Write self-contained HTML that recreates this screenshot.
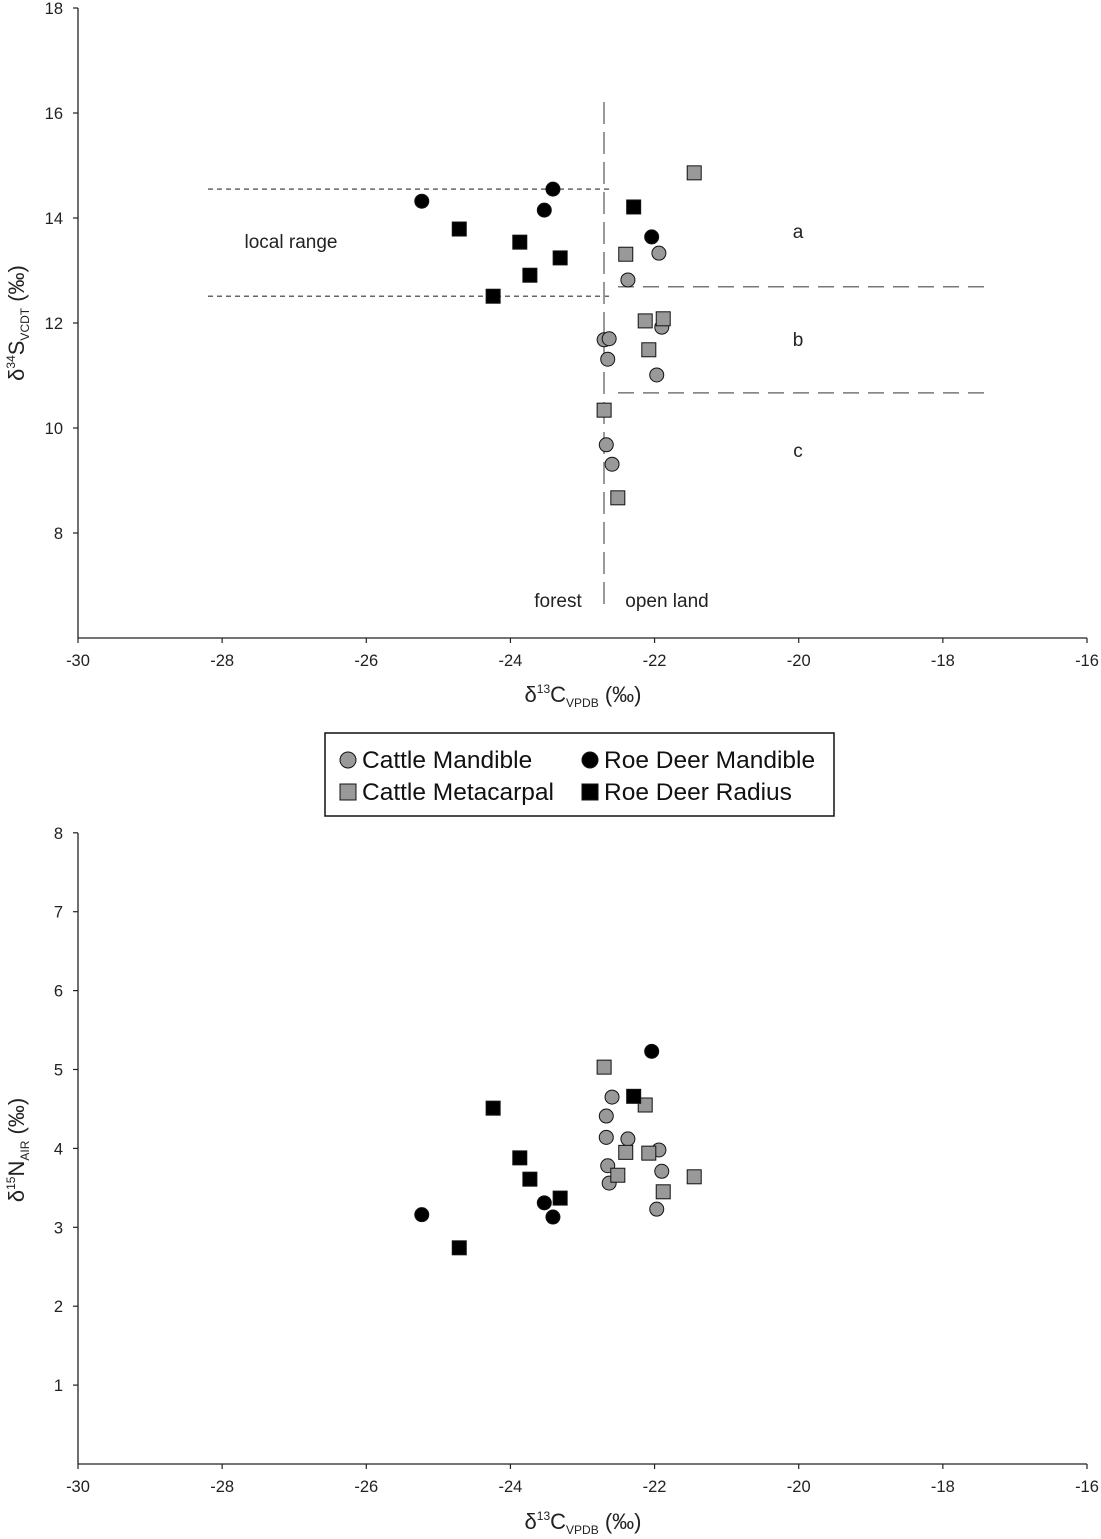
<!DOCTYPE html>
<html><head><meta charset="utf-8"><style>
html,body{margin:0;padding:0;background:#fff}
svg{display:block;font-family:"Liberation Sans",sans-serif}
</style></head><body>
<svg id="chart" width="1101" height="1539" viewBox="0 0 1101 1539" xmlns="http://www.w3.org/2000/svg"></svg>
<script>
// ---- top chart data (d13C, d34S) ----
const topCattleMandC = [-21.94,-22.37,-22.70,-22.63,-22.65,-21.90,-21.97,-22.67,-22.59];
const topCattleMandS = [13.33,12.82,11.68,11.70,11.31,11.92,11.01,9.68,9.31];
const topCattleMetaC = [-21.45,-22.40,-22.13,-21.88,-22.08,-22.70,-22.51];
const topCattleMetaS = [14.86,13.31,12.04,12.08,11.49,10.34,8.67];
const topRoeMandC = [-25.23,-23.41,-23.53,-22.04];
const topRoeMandS = [14.32,14.55,14.15,13.64];
const topRoeRadC = [-24.71,-24.24,-23.87,-23.73,-23.31,-22.29];
const topRoeRadS = [13.79,12.51,13.54,12.91,13.24,14.21];
// ---- bottom chart data (d13C, d15N) ----
const botCattleMandC = [-22.59,-22.67,-22.67,-22.37,-22.65,-22.63,-21.94,-21.90,-21.97];
const botCattleMandN = [4.65,4.41,4.14,4.12,3.78,3.56,3.98,3.71,3.23];
const botCattleMetaC = [-22.70,-22.13,-22.40,-22.08,-22.51,-21.88,-21.45];
const botCattleMetaN = [5.03,4.55,3.95,3.94,3.66,3.45,3.64];
const botRoeMandC = [-25.23,-23.53,-23.41,-22.04];
const botRoeMandN = [3.16,3.31,3.13,5.23];
const botRoeRadC = [-24.71,-24.24,-23.87,-23.73,-23.31,-22.29];
const botRoeRadN = [2.74,4.51,3.88,3.61,3.37,4.66];
const xTicks = [-30,-28,-26,-24,-22,-20,-18,-16];
const topYTicks = [8,10,12,14,16,18];
const botYTicks = [1,2,3,4,5,6,7,8];

const NS="http://www.w3.org/2000/svg";
const svg=document.getElementById('chart');
function mk(tag,attrs,name,parent){const e=document.createElementNS(NS,tag);for(const k in attrs)e.setAttribute(k,attrs[k]);


(parent||svg).appendChild(e);return e;}
const X=v=>78+(v+30)*(1009/14);
const YT=v=>638-(v-6)*52.5;
const YB=v=>1464-v*78.9;

function axes(y0,ytop,Y,yt,pref){
  mk('line',{x1:78,y1:y0,x2:1087,y2:y0,stroke:'#222','stroke-width':1.3},pref+'-x-axis');
  mk('line',{x1:78,y1:ytop,x2:78,y2:y0,stroke:'#222','stroke-width':1.3},pref+'-y-axis');
  xTicks.forEach(t=>{
    mk('line',{x1:X(t),y1:y0,x2:X(t),y2:y0+5,stroke:'#222','stroke-width':1.2},pref+'-x-tick');
    const tx=mk('text',{x:X(t),y:y0+28,'text-anchor':'middle','font-size':16.5,fill:'#222'},pref+'-x-tick-label');tx.textContent=t;
  });
  yt.forEach(t=>{
    mk('line',{x1:73,y1:Y(t),x2:78,y2:Y(t),stroke:'#222','stroke-width':1.2},pref+'-y-tick');
    const tx=mk('text',{x:63,y:Y(t)+6,'text-anchor':'end','font-size':16.5,fill:'#222'},pref+'-y-tick-label');tx.textContent=t;
  });
}
axes(638,8,YT,topYTicks,'top');
axes(1464,833,YB,botYTicks,'bottom');

mk('line',{x1:208,y1:YT(14.55),x2:612,y2:YT(14.55),stroke:'#666','stroke-width':1.5,'stroke-dasharray':'5,4'},'local-range-upper');
mk('line',{x1:208,y1:YT(12.51),x2:612,y2:YT(12.51),stroke:'#666','stroke-width':1.5,'stroke-dasharray':'5,4'},'local-range-lower');
mk('line',{x1:618,y1:YT(12.69),x2:990,y2:YT(12.69),stroke:'#777','stroke-width':1.5,'stroke-dasharray':'16,9'},'a-b-divider');
mk('line',{x1:618,y1:YT(10.67),x2:990,y2:YT(10.67),stroke:'#777','stroke-width':1.5,'stroke-dasharray':'16,9'},'b-c-divider');
mk('line',{x1:604,y1:102,x2:604,y2:608,stroke:'#999','stroke-width':2,'stroke-dasharray':'22,8'},'forest-openland-divider');

function label(x,y,t,name,size){const e=mk('text',{x:x,y:y,'text-anchor':'middle','font-size':size||19,fill:'#222'},name);e.textContent=t;}
label(291,248,'local range','local-range-label');
label(798,238,'a','zone-a-label');
label(798,346,'b','zone-b-label');
label(798,457,'c','zone-c-label');
label(558,607,'forest','forest-label');
label(667,607,'open land','open-land-label');

function circles(cs,vs,Y,fill,name){cs.forEach((c,i)=>mk('circle',{cx:X(c),cy:Y(vs[i]),r:7,fill:fill,stroke:'#111','stroke-width':1},name));}
function squares(cs,vs,Y,fill,name){cs.forEach((c,i)=>mk('rect',{x:X(c)-7,y:Y(vs[i])-7,width:14,height:14,fill:fill,stroke:'#111','stroke-width':1},name));}
circles(topCattleMandC,topCattleMandS,YT,'#999','top-cattle-mandible-point');
squares(topCattleMetaC,topCattleMetaS,YT,'#999','top-cattle-metacarpal-point');
circles(topRoeMandC,topRoeMandS,YT,'#000','top-roe-deer-mandible-point');
squares(topRoeRadC,topRoeRadS,YT,'#000','top-roe-deer-radius-point');
circles(botCattleMandC,botCattleMandN,YB,'#999','bottom-cattle-mandible-point');
squares(botCattleMetaC,botCattleMetaN,YB,'#999','bottom-cattle-metacarpal-point');
circles(botRoeMandC,botRoeMandN,YB,'#000','bottom-roe-deer-mandible-point');
squares(botRoeRadC,botRoeRadN,YB,'#000','bottom-roe-deer-radius-point');

function xtitle(y,name){const t=mk('text',{x:583,y:y,'text-anchor':'middle','font-size':22,fill:'#222'},name);
t.innerHTML='δ<tspan font-size="12" dy="-9">13</tspan><tspan dy="9">C</tspan><tspan font-size="12" dy="5">VPDB</tspan><tspan dy="-5"> (‰)</tspan>';}
xtitle(702,'top-x-axis-title');xtitle(1529,'bottom-x-axis-title');
const yt1=mk('text',{x:0,y:0,'text-anchor':'middle','font-size':22,fill:'#222',transform:'translate(24,323) rotate(-90)'},'top-y-axis-title');
yt1.innerHTML='δ<tspan font-size="12" dy="-9">34</tspan><tspan dy="9">S</tspan><tspan font-size="12" dy="5">VCDT</tspan><tspan dy="-5"> (‰)</tspan>';
const yt2=mk('text',{x:0,y:0,'text-anchor':'middle','font-size':22,fill:'#222',transform:'translate(24,1150) rotate(-90)'},'bottom-y-axis-title');
yt2.innerHTML='δ<tspan font-size="12" dy="-9">15</tspan><tspan dy="9">N</tspan><tspan font-size="12" dy="5">AIR</tspan><tspan dy="-5"> (‰)</tspan>';

const lg=mk('g',{},'legend');
mk('rect',{x:325,y:733,width:509,height:83,fill:'#fff',stroke:'#111','stroke-width':1.5},'legend-box',lg);
function lEntry(x,y,shape,fill,text,name){
  if(shape==='c')mk('circle',{cx:x,cy:y,r:8,fill:fill,stroke:'#111','stroke-width':1},name+'-marker',lg);
  else mk('rect',{x:x-8,y:y-8,width:16,height:16,fill:fill,stroke:'#111','stroke-width':1},name+'-marker',lg);
  const t=mk('text',{x:x+14,y:y+8,'font-size':24.5,fill:'#111'},name+'-label',lg);t.textContent=text;
}
lEntry(348,760,'c','#999','Cattle Mandible','legend-cattle-mandible');
lEntry(590,760,'c','#000','Roe Deer Mandible','legend-roe-deer-mandible');
lEntry(348,792,'s','#999','Cattle Metacarpal','legend-cattle-metacarpal');
lEntry(590,792,'s','#000','Roe Deer Radius','legend-roe-deer-radius');
</script>
</body></html>
